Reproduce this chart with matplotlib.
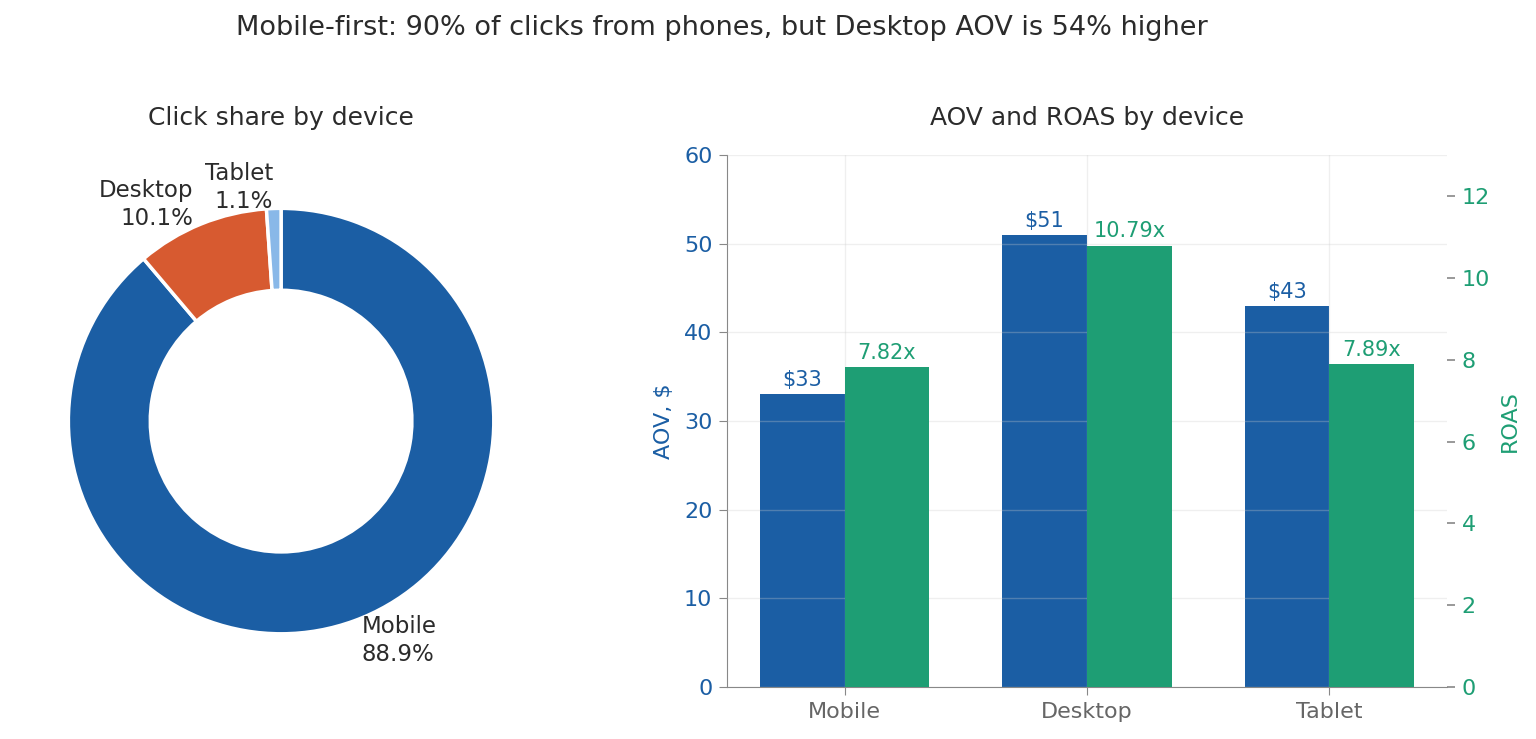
import matplotlib
matplotlib.use("Agg")
import matplotlib.pyplot as plt
import numpy as np

devices = ["Mobile", "Desktop", "Tablet"]
click_share = [88.9, 10.1, 1.1]
aov = [33, 51, 43]
roas = [7.82, 10.79, 7.89]

blue = "#1b5ea4"
orange = "#d75a30"
lightblue = "#89b8e8"
green = "#1e9e74"
dark = "#2b2b2b"

fig = plt.figure(figsize=(15.36, 7.39), dpi=100)
fig.suptitle("Mobile-first: 90% of clicks from phones, but Desktop AOV is 54% higher",
             fontsize=19.5, color=dark, x=0.47, y=0.98)

# Pie
axp = fig.add_axes([0.003, 0.0704, 0.36, 0.7196])
labels = [f"{d}\n{s:.1f}%" for d, s in zip(devices, click_share)]
wedges, texts = axp.pie(click_share, labels=labels, colors=[blue, orange, lightblue],
                        startangle=90, counterclock=False,
                        wedgeprops=dict(width=0.385, edgecolor="white", linewidth=2.5),
                        textprops=dict(fontsize=16.5, color=dark, linespacing=1.3))
axp.set_title("Click share by device", fontsize=18, color=dark, pad=22)

# Bars
ax1 = fig.add_axes([0.4733, 0.0704, 0.4688, 0.7196])
x = np.arange(len(devices))
w = 0.35
b1 = ax1.bar(x - w / 2, aov, w, color=blue)
ax1.set_ylim(0, 60)
ax1.set_xticks(x)
ax1.set_xticklabels(devices)
ax1.tick_params(axis="x", labelsize=16, labelcolor="#666666", colors="#888888", length=5.5, pad=5)
ax1.tick_params(axis="y", labelsize=16, labelcolor=blue, colors="#888888", length=5.5, pad=5)
ax1.set_ylabel("AOV, $", fontsize=16, color=blue, labelpad=7)
for s in ["top", "right"]:
    ax1.spines[s].set_visible(False)
for s in ["left", "bottom"]:
    ax1.spines[s].set_color("#888888")
ax1.grid(True, color="#cccccc", alpha=0.3, linewidth=1)
ax1.set_axisbelow(False)
ax1.bar_label(b1, labels=[f"${v}" for v in aov], padding=3, fontsize=15, color=blue)
ax1.set_title("AOV and ROAS by device", fontsize=18, color=dark, pad=22)

ax2 = ax1.twinx()
b2 = ax2.bar(x + w / 2, roas, w, color=green)
ax2.set_ylim(0, 13)
for s in ax2.spines.values():
    s.set_visible(False)
ax2.tick_params(axis="y", labelsize=16, labelcolor=green, colors="#888888", length=5.5, pad=5, width=1.2)
ax2.set_ylabel("ROAS", fontsize=16, color=green, labelpad=7)
ax2.bar_label(b2, labels=[f"{v:.2f}x" for v in roas], padding=3, fontsize=15, color=green)

fig.savefig("out.png", dpi=100)
